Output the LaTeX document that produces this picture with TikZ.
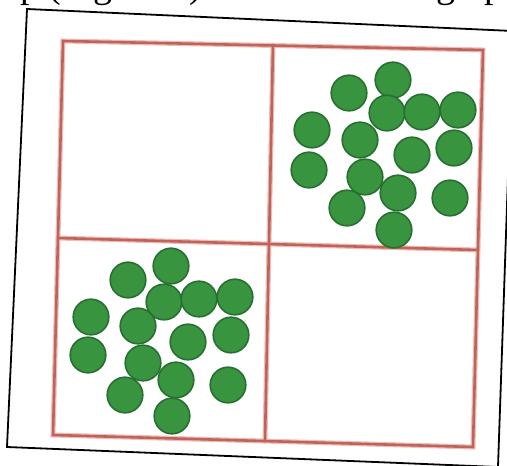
\documentclass[tikz,border=0pt]{standalone}
\usepackage{fontspec}
\setmainfont{Liberation Serif}
\definecolor{gridred}{RGB}{190,100,90}
\definecolor{gridhalo}{RGB}{240,190,185}
\definecolor{dotfill}{RGB}{56,148,62}
\definecolor{dotedge}{RGB}{40,112,50}
\tikzset{
  frameline/.style={draw=black,line width=1.8pt,fill=white,line join=miter},
  gridhalo/.style={draw=gridhalo,line width=5pt,line cap=round},
  gridline/.style={draw=gridred,line width=2.6pt,line cap=round},
  dot/.style={fill=dotfill,draw=dotedge,line width=1.6pt},
  cut/.style={anchor=base west,inner sep=0pt,font=\fontsize{38}{40}\selectfont}
}
\begin{document}
\begin{tikzpicture}[x=1pt,y=-1pt]
\useasboundingbox (0,0) rectangle (507,466);
\clip (0,0) rectangle (507,466);
\fill[white] (0,0) rectangle (507,466);
% clipped line of text above the figure
\node[cut] (txtL) at (20,-2.5) {p (Figure 1)};
\node[cut] (txtR) at (436,-2.5) {graph};
% tilted black frame
\path[frameline] (27,9) -- (513,31) -- (498,467) -- (7,447) -- cycle;
% red grid
\path[gridhalo] (63,41) -- (483,50) -- (473,447) -- (53,435) -- cycle;
\path[gridhalo] (273,45) -- (265,441);
\path[gridhalo] (58,238) -- (478,250);
\path[gridline] (63,41) -- (483,50) -- (473,447) -- (53,435) -- cycle;
\path[gridline] (273,45) -- (265,441);
\path[gridline] (58,238) -- (478,250);
% green dots, upper right
\foreach \x/\y in {393/80,349/93,387/113,422/112,458/110,312/130,360/140,454/148,
  412/155,309/170,365/177,398/193,450/198,347/208,394/230}
  \path[dot] (\x,\y) circle (17.8pt);
% green dots, lower left
\foreach \x/\y in {171/266,128/280,164/302,199/299,235/297,91/317,138/326,231/335,
  188/342,88/355,143/363,176/380,228/385,125/395,172/416}
  \path[dot] (\x,\y) circle (17.8pt);
\end{tikzpicture}
\end{document}
